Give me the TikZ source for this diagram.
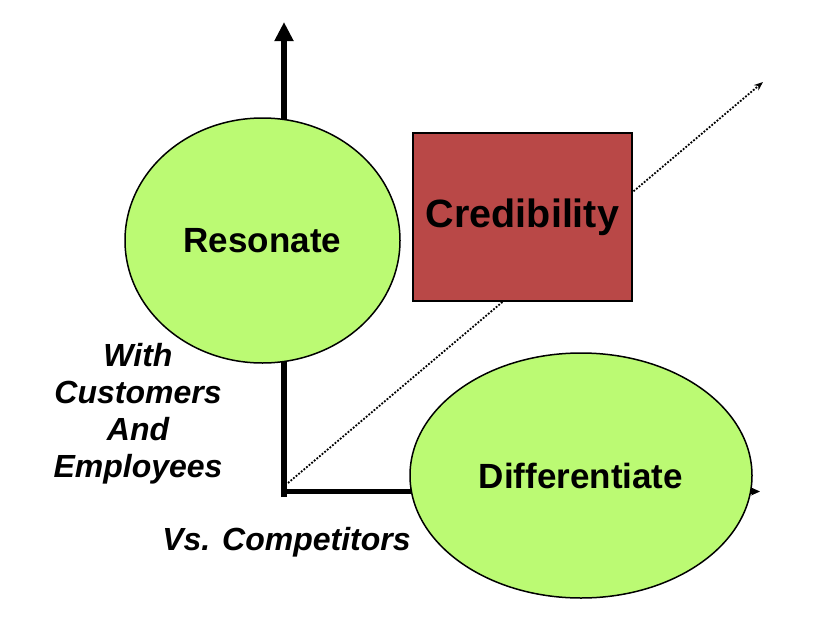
\documentclass[tikz,border=0pt]{standalone}
\usepackage{fontspec}
\setmainfont{Liberation Sans}
\usetikzlibrary{shapes.geometric,arrows.meta}
\definecolor{limegreen}{RGB}{187,250,115}
\definecolor{credred}{RGB}{185,72,71}
\tikzset{
  bubble/.style={ellipse,draw=black,line width=1.5pt,fill=limegreen,inner sep=0pt,font=\bfseries\fontsize{35}{41}\selectfont},
  credbox/.style={rectangle,draw=black,line width=2pt,fill=credred,inner sep=0pt,font=\bfseries\fontsize{39.5}{45}\selectfont},
  sidelabel/.style={inner sep=0pt,font=\bfseries\itshape\fontsize{32}{37}\selectfont},
  axisline/.style={draw=black,line width=6pt},
  dottedarrow/.style={draw=black,line width=1.8pt,dash pattern=on 1.8pt off 1.6pt,-{Stealth[length=9pt,width=7pt]}}
}
\begin{document}
\begin{tikzpicture}[x=1pt,y=-1pt]
\useasboundingbox (0,0) rectangle (838,632);
% axes
\coordinate (vbot) at (284,497);
\coordinate (vtop) at (284,22);
\coordinate (hstart) at (281,491.5);
\coordinate (hend) at (760,491.5);
\coordinate (dstart) at (288,483);
\coordinate (dend) at (763,82);
\draw[axisline,-{Triangle[length=19pt,width=18pt]}] (vbot) -- (vtop);
\draw[axisline,line width=5pt,-{Stealth[length=9pt,width=8pt]}] (hstart) -- (hend);
\draw[dottedarrow] (dstart) -- (dend);
% shapes
\node[bubble,minimum width=275pt,minimum height=245pt] (res) at (262.5,240.5) {Resonate};
\node[credbox,minimum width=219pt,minimum height=168pt] (cred) at (522.5,217) {Credibility};
\node[bubble,minimum width=342pt,minimum height=245pt] (diff) at (581,475.5) {Differentiate};
% labels
\node[sidelabel,align=center,anchor=north] (with) at (138,343) {With\\Customers\\And\\Employees};
\node[sidelabel,anchor=base] (vs) at (286.5,550) {Vs. Competitors};
\end{tikzpicture}
\end{document}
